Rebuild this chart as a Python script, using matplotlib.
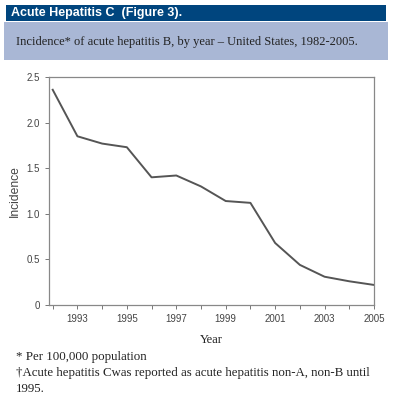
import matplotlib.pyplot as plt
from matplotlib.patches import Rectangle

years = [1992, 1993, 1994, 1995, 1996, 1997, 1998, 1999, 2000, 2001, 2002, 2003, 2004, 2005]
incidence = [2.36, 1.85, 1.77, 1.73, 1.40, 1.42, 1.30, 1.14, 1.12, 0.68, 0.44, 0.31, 0.26, 0.22]
ytick_vals = [0, 0.5, 1.0, 1.5, 2.0, 2.5]
ytick_labels = ["0", "0.5", "1.0", "1.5", "2.0", "2.5"]
xtick_labels = [1993, 1995, 1997, 1999, 2001, 2003, 2005]

W, H = 393, 403
fig = plt.figure(figsize=(W / 100, H / 100), dpi=100)

# header bars
fig.patches.append(Rectangle((6 / W, 1 - 21 / H), 380 / W, 16 / H, transform=fig.transFigure,
                             facecolor="#00457e", edgecolor="none"))
fig.patches.append(Rectangle((4 / W, 1 - 60 / H), 384 / W, 38 / H, transform=fig.transFigure,
                             facecolor="#a9b7d5", edgecolor="none"))
fig.text(11 / W, 1 - 13 / H, "Acute Hepatitis C  (Figure 3).", color="white", fontweight="bold",
         family="Liberation Sans", fontsize=9, va="center")
fig.text(16 / W, 1 - 42 / H, "Incidence* of acute hepatitis B, by year \u2013 United States, 1982-2005.",
         family="Liberation Serif", fontsize=9, va="center", color="#222222")

ax = fig.add_axes([49 / W, 1 - 305 / H, 325 / W, 228 / H])
ax.plot(years, incidence, color="#555555", lw=1.4)
ax.set_xlim(1991.85, 2005.0)
ax.set_ylim(0, 2.5)
ax.set_yticks(ytick_vals)
ax.set_yticklabels(ytick_labels)
ax.set_xticks(years, minor=True)
ax.set_xticks(xtick_labels)
ax.tick_params(which="both", direction="out", length=3, width=0.7, color="#777777",
               labelsize=7, labelcolor="#444444")
for lbl in ax.get_xticklabels() + ax.get_yticklabels():
    lbl.set_family("Liberation Sans")
for s in ax.spines.values():
    s.set_color("#888888")
    s.set_linewidth(0.9)
ax.set_ylabel("Incidence", family="Liberation Sans", fontsize=8.7, color="#444444", va="center")
ax.yaxis.set_label_coords(-0.105, 0.5)
ax.set_xlabel("Year", family="Liberation Serif", fontsize=9, color="#222222", labelpad=7)

foot = dict(family="Liberation Serif", fontsize=9.3, va="center", color="#222222")
fig.text(16 / W, 1 - 357 / H, "* Per 100,000 population", **foot)
fig.text(16 / W, 1 - 373 / H, "\u2020Acute hepatitis Cwas reported as acute hepatitis non-A, non-B until", **foot)
fig.text(16 / W, 1 - 389 / H, "1995.", **foot)

fig.savefig("out.png", dpi=100)
